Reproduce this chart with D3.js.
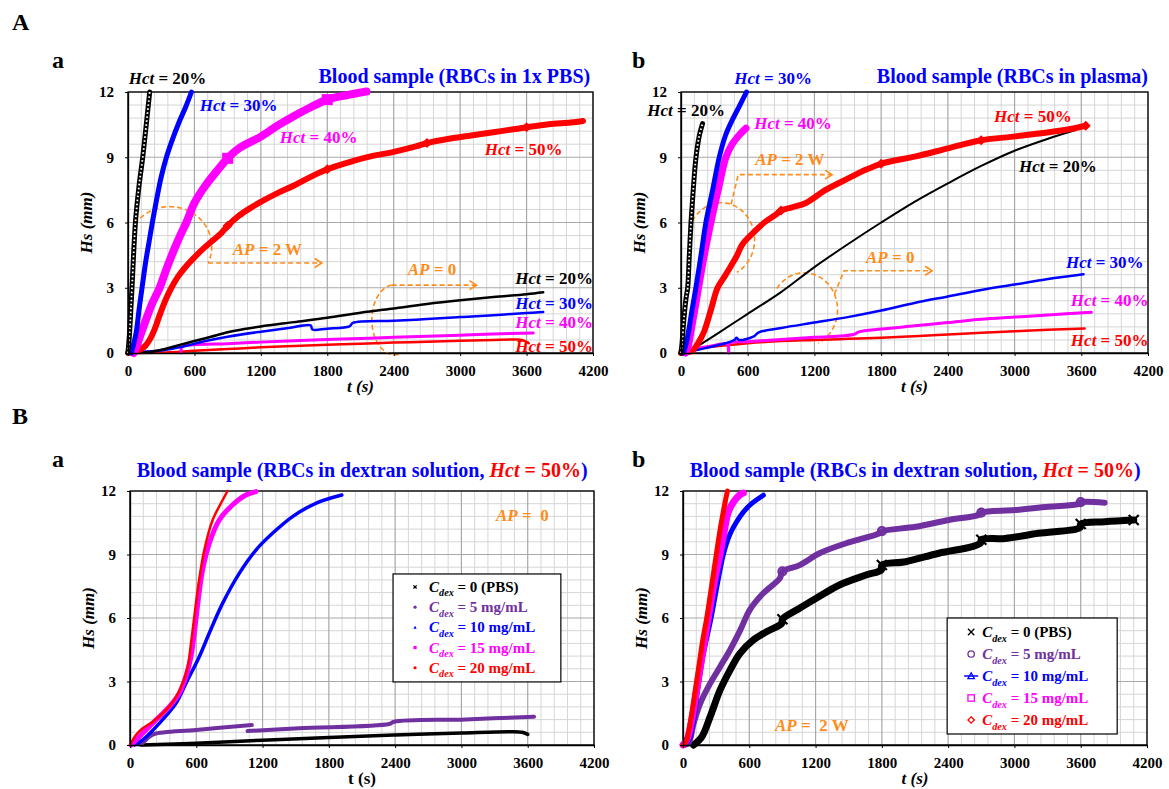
<!DOCTYPE html>
<html>
<head>
<meta charset="utf-8">
<script src="https://cdn.jsdelivr.net/npm/d3@7"></script>
<style>
  body { margin: 0; background: #fff; }
  svg text { font-family: "Liberation Serif", "Times New Roman", serif; font-weight: bold; }
</style>
</head>
<body>
<svg id="fig" width="1169" height="789"></svg>
<script>
// ---------- axes ----------
const xTicks = [0, 600, 1200, 1800, 2400, 3000, 3600, 4200];
const yTicks = [0, 3, 6, 9, 12];

// ---------- A-a : RBCs in 1x PBS (t [s], Hs [mm]) ----------
const aaHct20_2W = [[0,0],[15,1],[36,3],[67,6],[100,7.7],[133,9],[165,10.5],[196,12]];
const aaHct30_2W = [[30,0],[55,0.5],[76,1],[100,2],[127,3],[160,4.2],[190,5.1],[220,6],[260,7.1],[300,8.1],[347,9],[400,9.8],[460,10.6],[520,11.3],[573,12]];
const aaHct40_2W = [[50,0],[76,0.3],[110,0.8],[160,1.5],[220,2.3],[286,3],[350,3.9],[420,4.8],[480,5.5],[527,6],[600,6.9],[700,7.7],[800,8.35],[900,8.95],[1000,9.4],[1200,9.95],[1350,10.45],[1500,10.9],[1650,11.3],[1800,11.65],[2000,11.88],[2154,12.02]];
const aaHct50_2W = [[0,0],[60,0.05],[110,0.15],[160,0.35],[200,0.65],[241,1.1],[290,1.8],[340,2.45],[392,3],[450,3.5],[527,4],[600,4.4],[680,4.8],[760,5.15],[840,5.5],[900,5.85],[1000,6.3],[1100,6.65],[1200,6.95],[1350,7.35],[1500,7.7],[1650,8.1],[1800,8.45],[2000,8.78],[2200,9.05],[2400,9.25],[2600,9.5],[2700,9.65],[2900,9.85],[3100,10.0],[3300,10.15],[3500,10.3],[3600,10.38],[3800,10.52],[4000,10.6],[4110,10.67]];
const aaHct20_0 = [[0,0],[200,0.05],[300,0.15],[400,0.28],[500,0.42],[600,0.55],[750,0.75],[900,0.95],[1050,1.1],[1200,1.22],[1500,1.42],[1800,1.62],[2100,1.85],[2400,2.05],[2700,2.25],[3000,2.42],[3300,2.57],[3600,2.7],[3750,2.79]];
const aaHct30_0 = [[0,0],[100,0.05],[300,0.12],[500,0.3],[700,0.55],[900,0.75],[1200,0.98],[1450,1.15],[1650,1.27],[1665,1.08],[1800,1.12],[2000,1.22],[2030,1.38],[2400,1.48],[2700,1.56],[3000,1.65],[3300,1.74],[3600,1.84],[3750,1.88]];
const aaHct40_0 = [[480,0],[490,0.3],[600,0.38],[900,0.43],[1200,0.5],[1500,0.56],[1800,0.62],[2100,0.67],[2400,0.72],[2700,0.77],[3000,0.82],[3300,0.87],[3660,0.92]];
const aaHct50_0 = [[0,0],[300,0.02],[600,0.1],[900,0.18],[1200,0.26],[1500,0.32],[1800,0.38],[2100,0.43],[2400,0.48],[2700,0.52],[3000,0.56],[3300,0.6],[3500,0.62],[3560,0.6],[3620,0.45]];

// ---------- A-b : RBCs in plasma ----------
const abHct20_2W = [[0,0],[10,0.5],[25,1.5],[45,2.5],[60,3],[75,4.5],[90,6],[110,7.5],[135,9],[165,10],[194,10.55]];
const abHct30_2W = [[20,0],[45,0.4],[68,1],[100,2],[134,3],[180,4.5],[224,6],[285,7.5],[344,9],[400,10],[460,10.7],[530,11.4],[589,12]];
const abHct40_2W = [[40,0],[65,0.3],[90,1],[125,2],[158,3],[210,4.5],[269,6],[335,7.5],[404,9],[460,9.6],[520,10],[585,10.34]];
const abHct50_2W = [[0,0],[100,0.1],[134,0.3],[170,0.6],[209,1],[270,2],[329,3],[390,3.5],[449,4],[500,4.45],[553,5],[644,5.5],[749,6.0],[850,6.35],[900,6.55],[1000,6.7],[1123,6.9],[1302,7.5],[1512,8.05],[1650,8.4],[1800,8.7],[2111,9.04],[2410,9.42],[2700,9.78],[3009,9.96],[3308,10.15],[3500,10.3],[3640,10.45]];
const abHct20_0 = [[100,0.15],[300,0.8],[600,1.8],[900,2.8],[1200,3.95],[1500,5.0],[1800,6.0],[2100,6.95],[2400,7.8],[2700,8.6],[3000,9.3],[3300,9.85],[3550,10.25]];
const abHct30_0 = [[0,0],[200,0.2],[400,0.45],[480,0.6],[500,0.7],[520,0.6],[650,0.75],[700,0.95],[900,1.15],[1200,1.4],[1500,1.65],[1800,1.95],[2100,2.3],[2400,2.6],[2700,2.9],[3000,3.15],[3300,3.4],[3620,3.62]];
const abHct40_0 = [[80,0.15],[250,0.3],[420,0.4],[428,0],[434,0.45],[600,0.52],[900,0.62],[1200,0.72],[1550,0.85],[1600,0.97],[1800,1.1],[2100,1.25],[2400,1.4],[2700,1.55],[3000,1.65],[3300,1.75],[3690,1.87]];
const abHct50_0 = [[60,0.15],[300,0.3],[600,0.45],[900,0.55],[1200,0.6],[1500,0.65],[1800,0.7],[2100,0.77],[2400,0.85],[2700,0.93],[3000,1.0],[3300,1.07],[3630,1.13]];

// ---------- B-a : dextran solution, AP = 0 ----------
const baCdex0  = [[100,0],[600,0.08],[1200,0.23],[1800,0.36],[2400,0.47],[3000,0.57],[3450,0.63],[3550,0.6],[3600,0.5]];
const baCdex5a = [[100,0],[175,0.39],[220,0.52],[597,0.71],[1103,0.94]];
const baCdex5b = [[1064,0.66],[1532,0.79],[2345,0.99],[2391,1.1],[3039,1.21],[3657,1.34]];
const baCdex10 = [[40,0],[115,0.24],[265,1.02],[416,1.97],[506,2.91],[627,4.17],[717,5.28],[838,6.69],[989,8.11],[1140,9.21],[1290,10.0],[1471,10.79],[1682,11.42],[1917,11.81]];
const baCdex15 = [[10,0],[115,0.55],[235,1.18],[356,1.81],[446,2.44],[506,3.23],[552,4.17],[582,5.28],[621,7.0],[657,8.27],[718,9.53],[808,10.63],[928,11.34],[1049,11.81],[1140,11.97]];
const baCdex20 = [[0,0],[54,0.47],[115,0.79],[205,1.1],[326,1.65],[401,2.13],[476,2.91],[522,3.7],[552,4.8],[582,6.06],[621,7.64],[672,9.2],[748,10.63],[823,11.42],[883,12]];

// ---------- B-b : dextran solution, AP = 2 W ----------
const bbCdex0  = [[96,0],[171,0.39],[246,1.34],[336,2.6],[426,3.54],[516,4.33],[636,4.96],[756,5.35],[895,5.75],[900,5.94],[1056,6.46],[1206,6.93],[1416,7.56],[1656,8.03],[1795,8.27],[1800,8.5],[2016,8.66],[2316,9.06],[2616,9.37],[2695,9.55],[2700,9.7],[2916,9.76],[3216,10.0],[3595,10.28],[3600,10.44],[3816,10.55],[4080,10.63]];
const bbCdex5  = [[0,0],[50,0.1],[96,1.02],[156,1.97],[246,2.91],[336,3.7],[426,4.49],[516,5.4],[606,6.4],[726,7.17],[876,7.87],[900,8.2],[1056,8.5],[1236,9.06],[1476,9.53],[1776,10.0],[1800,10.1],[2106,10.31],[2406,10.63],[2676,10.87],[2700,10.98],[3006,11.1],[3306,11.26],[3576,11.38],[3600,11.47],[3816,11.45]];
const bbCdex10 = [[0,0],[50,0.2],[90,1],[130,2.5],[180,4.2],[254,6],[300,7.3],[365,9],[420,9.9],[480,10.5],[546,11],[620,11.4],[727,11.8]];
const bbCdex15 = [[0,0],[40,0.3],[80,1.2],[120,2.5],[170,4.1],[229,6],[280,7.6],[335,9],[370,10],[410,11],[460,11.5],[510,11.8],[546,11.9]];
const bbCdex20 = [[0,0],[30,0.2],[60,0.9],[100,2.2],[140,3.6],[180,5.0],[215,6.0],[250,7.2],[290,8.6],[340,10.3],[375,11.3],[402,12]];

// ---------- colours ----------
const BLACK = "#000000", BLUE = "#0000ff", MAGENTA = "#ff00ff", RED = "#ff0000",
      PURPLE = "#7030a0", ORANGE = "#ff8c1a";

const svg = d3.select("#fig");

// rich text made of styled runs
function rich(g, x, y, parts, size, anchor) {
  const t = g.append("text").attr("x", x).attr("y", y)
    .attr("font-size", size).attr("text-anchor", anchor || "start")
    .style("white-space", "pre");
  parts.forEach(p => {
    const s = t.append("tspan").text(p.t).attr("fill", p.c || BLACK);
    if (p.i) s.attr("font-style", "italic");
    if (p.fs) s.attr("font-size", p.fs);
    if (p.dy) s.attr("dy", p.dy);
  });
  return t;
}
const hct = (v, c) => [{ t: "Hct", i: 1, c }, { t: " = " + v + "%", c }];
const cdex = (v, c, fs) => [{ t: "C", i: 1, c }, { t: "dex", i: 1, c, fs: fs * 0.68, dy: fs * 0.3 }, { t: " = " + v, c, dy: -fs * 0.3 }];

// marker glyphs
function marker(g, kind, px, py, s, col, sw) {
  if (kind === "x") {
    g.append("path").attr("d", `M${px-s},${py-s}L${px+s},${py+s}M${px-s},${py+s}L${px+s},${py-s}`)
      .attr("stroke", col).attr("stroke-width", sw || 1.6).attr("fill", "none");
  } else if (kind === "o") {
    g.append("circle").attr("cx", px).attr("cy", py).attr("r", s)
      .attr("stroke", col).attr("stroke-width", sw || 1.4).attr("fill", "none");
  } else if (kind === "oF") {
    g.append("circle").attr("cx", px).attr("cy", py).attr("r", s).attr("fill", col);
  } else if (kind === "tri") {
    g.append("path").attr("d", `M${px},${py-s}L${px+s},${py+s*0.8}L${px-s},${py+s*0.8}Z`)
      .attr("stroke", col).attr("stroke-width", sw || 1.3).attr("fill", "none");
  } else if (kind === "triF") {
    g.append("path").attr("d", `M${px},${py-s}L${px+s},${py+s*0.8}L${px-s},${py+s*0.8}Z`).attr("fill", col);
  } else if (kind === "sq") {
    g.append("rect").attr("x", px-s).attr("y", py-s).attr("width", 2*s).attr("height", 2*s)
      .attr("stroke", col).attr("stroke-width", sw || 1.3).attr("fill", "none");
  } else if (kind === "sqF") {
    g.append("rect").attr("x", px-s).attr("y", py-s).attr("width", 2*s).attr("height", 2*s).attr("fill", col);
  } else if (kind === "dia") {
    g.append("path").attr("d", `M${px},${py-s}L${px+s},${py}L${px},${py+s}L${px-s},${py}Z`)
      .attr("stroke", col).attr("stroke-width", sw || 1.3).attr("fill", "none");
  } else if (kind === "diaF") {
    g.append("path").attr("d", `M${px},${py-s}L${px+s},${py}L${px},${py+s}L${px-s},${py}Z`).attr("fill", col);
  }
}

function drawPanel(cfg) {
  const b = cfg.box;
  const x = d3.scaleLinear().domain([0, 4200]).range([b.left, b.right]);
  const y = d3.scaleLinear().domain([0, 12]).range([b.bottom, b.top]);
  const g = svg.append("g");

  // grid: minor then major
  const minorX = d3.range(0, 36).map(i => i * 120).filter(v => v % 600 !== 0);
  const minorY = d3.range(0, 21).filter(i => i % 5 !== 0).map(i => i * 0.6);
  g.append("g").selectAll("line.mx").data(minorX).join("line")
    .attr("x1", d => x(d)).attr("x2", d => x(d)).attr("y1", b.top).attr("y2", b.bottom)
    .attr("stroke", "#d6d6d6").attr("stroke-width", 1);
  g.append("g").selectAll("line.my").data(minorY).join("line")
    .attr("y1", d => y(d)).attr("y2", d => y(d)).attr("x1", b.left).attr("x2", b.right)
    .attr("stroke", "#d6d6d6").attr("stroke-width", 1);
  g.append("g").selectAll("line.Mx").data(xTicks).join("line")
    .attr("x1", d => x(d)).attr("x2", d => x(d)).attr("y1", b.top).attr("y2", b.bottom)
    .attr("stroke", "#a8a8a8").attr("stroke-width", 1.2);
  g.append("g").selectAll("line.My").data(yTicks).join("line")
    .attr("y1", d => y(d)).attr("y2", d => y(d)).attr("x1", b.left).attr("x2", b.right)
    .attr("stroke", "#a8a8a8").attr("stroke-width", 1.2);

  // frame
  g.append("rect").attr("x", b.left).attr("y", b.top)
    .attr("width", b.right - b.left).attr("height", b.bottom - b.top)
    .attr("fill", "none").attr("stroke", "#000").attr("stroke-width", 1.3);

  // orange dashed annotations (ellipse arcs + arrows), given in data units
  (cfg.notes || []).forEach(n => {
    const pts = d3.range(0, 41).map(i => {
      const a = (n.a0 + (n.a1 - n.a0) * i / 40) * Math.PI / 180;
      return [x(n.cx + n.rx * Math.cos(a)), y(n.cy + n.ry * Math.sin(a))];
    });
    const dash = "5,3";
    g.append("path").attr("d", d3.line()(pts)).attr("fill", "none")
      .attr("stroke", ORANGE).attr("stroke-width", 1.6).attr("stroke-dasharray", dash);
    const seg = n.path.map(p => [x(p[0]), y(p[1])]);
    g.append("path").attr("d", d3.line()(seg)).attr("fill", "none")
      .attr("stroke", ORANGE).attr("stroke-width", 1.6).attr("stroke-dasharray", dash);
    const tip = seg[seg.length - 1];
    g.append("path").attr("d", `M${tip[0]-7},${tip[1]-4.5}L${tip[0]},${tip[1]}L${tip[0]-7},${tip[1]+4.5}`)
      .attr("fill", "none").attr("stroke", ORANGE).attr("stroke-width", 1.6);
  });

  // series
  const line = d3.line().x(d => x(d[0])).y(d => y(d[1])).curve(d3.curveCatmullRom.alpha(0.5));
  cfg.series.forEach(s => {
    g.append("path").attr("d", line(s.data)).attr("fill", "none")
      .attr("stroke", s.color).attr("stroke-width", s.w)
      .attr("stroke-linejoin", "round").attr("stroke-linecap", "round");
    if (s.chain) {
      g.append("path").attr("d", line(s.data)).attr("fill", "none")
        .attr("stroke", "#fff").attr("stroke-width", 1.8).attr("stroke-dasharray", "1.6,2.4");
    }
    if (s.mk) {
      s.data.filter(d => s.mkAt.includes(d[0]))
        .forEach(d => marker(g, s.mk, x(d[0]), y(d[1]), s.mkS || 4, s.color, 2.2));
    }
  });

  // axes
  const ax = g.append("g").attr("transform", `translate(0,${b.bottom})`)
    .call(d3.axisBottom(x).tickValues(xTicks).tickSize(3).tickSizeOuter(0).tickPadding(9).tickFormat(d3.format("d")));
  ax.select(".domain").attr("stroke", "#000").attr("stroke-width", 1.3);
  ax.selectAll(".tick line").attr("stroke", "#000");
  ax.selectAll("text").attr("font-size", 15).attr("fill", "#000")
    .attr("font-family", '"Liberation Serif","Times New Roman",serif');
  const ay = g.append("g").attr("transform", `translate(${b.left},0)`)
    .call(d3.axisLeft(y).tickValues(yTicks).tickSize(3).tickSizeOuter(0).tickPadding(11).tickFormat(d3.format("d")));
  ay.select(".domain").attr("stroke", "#000").attr("stroke-width", 1.3);
  ay.selectAll(".tick line").attr("stroke", "#000");
  ay.selectAll("text").attr("font-size", 15).attr("fill", "#000")
    .attr("font-family", '"Liberation Serif","Times New Roman",serif');

  // axis titles
  g.append("text").attr("x", (b.left + b.right) / 2).attr("y", b.bottom + 39)
    .attr("text-anchor", "middle").attr("font-size", 17)
    .attr("font-style", cfg.tItalic ? "italic" : "normal").text("t (s)");
  g.append("text").attr("transform", `translate(${b.left - 36},${(b.top + b.bottom) / 2}) rotate(-90)`)
    .attr("text-anchor", "middle").attr("font-size", 17).attr("font-style", "italic").text("Hs (mm)");

  // labels
  (cfg.labels || []).forEach(l => rich(g, x(l.t), y(l.h), l.parts, l.size || 17, l.anchor));

  // legend
  if (cfg.legend) {
    const L = cfg.legend;
    const x0 = x(L.t0), x1 = x(L.t1), y0 = y(L.h0), y1 = y(L.h1);
    g.append("rect").attr("x", x0).attr("y", y0).attr("width", x1 - x0).attr("height", y1 - y0)
      .attr("fill", "#fff").attr("stroke", "#000").attr("stroke-width", 1.2);
    L.items.forEach((it, i) => {
      const by = y0 + L.first + i * L.step;
      if (it.line) g.append("line").attr("x1", x0 + L.mx - 7).attr("x2", x0 + L.mx + 7)
        .attr("y1", by - 5).attr("y2", by - 5).attr("stroke", it.c).attr("stroke-width", 1.5);
      marker(g, it.mk, x0 + L.mx, by - 5, L.ms, it.c, 1.3);
      rich(g, x0 + L.tx, by, cdex(it.v, it.c, 15), 15);
    });
  }
}

// ---------- panels ----------
drawPanel({
  box: { left: 128, right: 593, top: 92, bottom: 353 }, tItalic: true,
  series: [
    { data: aaHct50_0, color: RED, w: 2.5 },
    { data: aaHct40_0, color: MAGENTA, w: 3 },
    { data: aaHct30_0, color: BLUE, w: 2.5 },
    { data: aaHct20_0, color: BLACK, w: 2.5 },
    { data: aaHct50_2W, color: RED, w: 6, mk: "diaF", mkAt: [900, 1800, 2700, 3600], mkS: 5 },
    { data: aaHct40_2W, color: MAGENTA, w: 8, mk: "sqF", mkAt: [900, 1800], mkS: 5.5 },
    { data: aaHct30_2W, color: BLUE, w: 5 },
    { data: aaHct20_2W, color: BLACK, w: 5, chain: true }
  ],
  notes: [
    { cx: 377, cy: 4.89, rx: 380, ry: 1.84, a0: 146, a1: -24, path: [[724, 4.14], [1750, 4.14]] },
    { cx: 2410, cy: 1.53, rx: 208, ry: 1.61, a0: 98, a1: 280, path: [[2381, 3.12], [3148, 3.12]] }
  ],
  labels: [
    { t: 4175, h: 12.43, parts: [{ t: "Blood sample (RBCs in 1x PBS)", c: BLUE }], size: 20, anchor: "end" },
    { t: 6, h: 12.38, parts: hct(20, BLACK) },
    { t: 648, h: 11.14, parts: hct(30, BLUE) },
    { t: 1371, h: 9.67, parts: hct(40, MAGENTA) },
    { t: 3223, h: 9.12, parts: hct(50, RED) },
    { t: 946, h: 4.52, parts: [{ t: "AP", i: 1, c: ORANGE }, { t: " = 2 W", c: ORANGE }] },
    { t: 2527, h: 3.6, parts: [{ t: "AP", i: 1, c: ORANGE }, { t: " = 0", c: ORANGE }] },
    { t: 4200, h: 3.19, parts: hct(20, BLACK), anchor: "end" },
    { t: 4200, h: 2.04, parts: hct(30, BLUE), anchor: "end" },
    { t: 4200, h: 1.16, parts: hct(40, MAGENTA), anchor: "end" },
    { t: 4200, h: 0.06, parts: hct(50, RED), anchor: "end" }
  ]
});

drawPanel({
  box: { left: 681, right: 1148, top: 92, bottom: 353 }, tItalic: true,
  series: [
    { data: abHct50_0, color: RED, w: 2.5 },
    { data: abHct40_0, color: MAGENTA, w: 3 },
    { data: abHct30_0, color: BLUE, w: 2.5 },
    { data: abHct20_0, color: BLACK, w: 2 },
    { data: abHct50_2W, color: RED, w: 6, mk: "diaF", mkAt: [900, 1800, 2700, 3640], mkS: 5 },
    { data: abHct40_2W, color: MAGENTA, w: 7 },
    { data: abHct30_2W, color: BLUE, w: 5 },
    { data: abHct20_2W, color: BLACK, w: 5, chain: true }
  ],
  notes: [
    { cx: 362, cy: 5.21, rx: 300, ry: 1.70, a0: 150, a1: -62, path: [[451, 6.84], [515, 8.2], [1359, 8.2]] },
    { cx: 1108, cy: 1.99, rx: 300, ry: 1.70, a0: 145, a1: -65, path: [[1380, 2.71], [1467, 3.78], [2258, 3.78]] }
  ],
  labels: [
    { t: 4200, h: 12.43, parts: [{ t: "Blood sample (RBCs in plasma)", c: BLUE }], size: 20, anchor: "end" },
    { t: 479, h: 12.38, parts: hct(30, BLUE) },
    { t: -303, h: 10.91, parts: hct(20, BLACK) },
    { t: 658, h: 10.32, parts: hct(40, MAGENTA) },
    { t: 667, h: 8.66, parts: [{ t: "AP", i: 1, c: ORANGE }, { t: " = 2 W", c: ORANGE }] },
    { t: 2815, h: 10.63, parts: hct(50, RED) },
    { t: 3040, h: 8.34, parts: hct(20, BLACK) },
    { t: 1664, h: 4.15, parts: [{ t: "AP", i: 1, c: ORANGE }, { t: " = 0", c: ORANGE }] },
    { t: 3462, h: 3.92, parts: hct(30, BLUE) },
    { t: 4205, h: 2.17, parts: hct(40, MAGENTA), anchor: "end" },
    { t: 4205, h: 0.34, parts: hct(50, RED), anchor: "end" }
  ]
});

const dexTitle = [
  { t: "Blood sample (RBCs in dextran solution, ", c: BLUE },
  { t: "Hct", i: 1, c: RED }, { t: " = 50%", c: RED }, { t: ")", c: BLUE }
];

drawPanel({
  box: { left: 130, right: 594, top: 491, bottom: 745 }, tItalic: false,
  series: [
    { data: baCdex0, color: BLACK, w: 3.5 },
    { data: baCdex5a, color: PURPLE, w: 4 },
    { data: baCdex5b, color: PURPLE, w: 4 },
    { data: baCdex10, color: BLUE, w: 3.5 },
    { data: baCdex15, color: MAGENTA, w: 5 },
    { data: baCdex20, color: RED, w: 2.5 }
  ],
  labels: [
    { t: 2101, h: 12.66, parts: dexTitle, size: 20, anchor: "middle" },
    { t: 3313, h: 10.58, parts: [{ t: "AP", i: 1, c: ORANGE }, { t: " =  0", c: ORANGE }] }
  ],
  legend: {
    t0: 2381, t1: 3900, h0: 8.08, h1: 2.98, first: 18, step: 20.2, mx: 22, tx: 36, ms: 1.6,
    items: [
      { v: "0 (PBS)", c: BLACK, mk: "x" },
      { v: "5 mg/mL", c: PURPLE, mk: "oF" },
      { v: "10 mg/mL", c: BLUE, mk: "triF" },
      { v: "15 mg/mL", c: MAGENTA, mk: "sqF" },
      { v: "20 mg/mL", c: RED, mk: "oF" }
    ]
  }
});

drawPanel({
  box: { left: 683, right: 1147, top: 491, bottom: 745 }, tItalic: true,
  series: [
    { data: bbCdex0, color: BLACK, w: 7, mk: "x", mkAt: [900, 1800, 2700, 3600, 4080], mkS: 5 },
    { data: bbCdex5, color: PURPLE, w: 6, mk: "o", mkAt: [900, 1800, 2700, 3600], mkS: 4 },
    { data: bbCdex10, color: BLUE, w: 5 },
    { data: bbCdex15, color: MAGENTA, w: 7 },
    { data: bbCdex20, color: RED, w: 5 }
  ],
  labels: [
    { t: 2101, h: 12.66, parts: dexTitle, size: 20, anchor: "middle" },
    { t: 833, h: 0.66, parts: [{ t: "AP", i: 1, c: ORANGE }, { t: " =  2 W", c: ORANGE }] }
  ],
  legend: {
    t0: 2391, t1: 3930, h0: 6.0, h1: 0.52, first: 19, step: 22, mx: 24, tx: 35, ms: 3.2,
    items: [
      { v: "0 (PBS)", c: BLACK, mk: "x" },
      { v: "5 mg/mL", c: PURPLE, mk: "o" },
      { v: "10 mg/mL", c: BLUE, mk: "tri", line: true },
      { v: "15 mg/mL", c: MAGENTA, mk: "sq" },
      { v: "20 mg/mL", c: RED, mk: "dia" }
    ]
  }
});

// panel letters
[["A", 12, 30], ["a", 52, 68], ["b", 632, 68], ["B", 12, 424], ["a", 52, 467], ["b", 632, 467]]
  .forEach(([s, px, py]) => svg.append("text").attr("x", px).attr("y", py).attr("font-size", 24).text(s));
</script>
</body>
</html>
